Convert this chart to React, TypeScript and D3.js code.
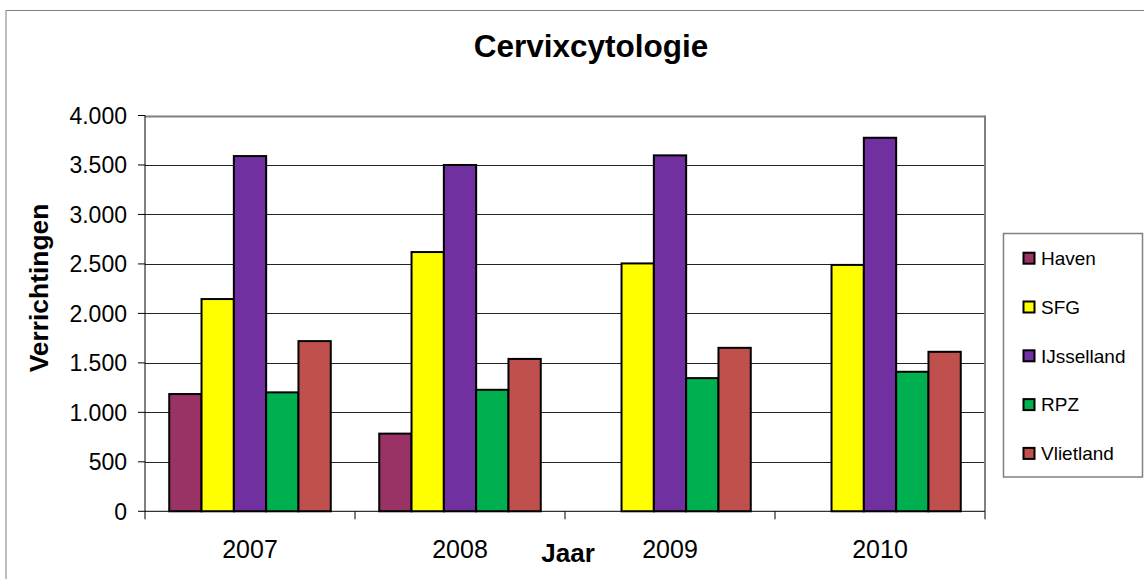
import * as d3 from 'd3';

const years = ['2007', '2008', '2009', '2010'];
const seriesNames = ['Haven', 'SFG', 'IJsselland', 'RPZ', 'Vlietland'];
const haven = [1185, 785, null, null];
const sfg = [2145, 2620, 2505, 2490];
const ijsselland = [3590, 3500, 3597, 3775];
const rpz = [1202, 1228, 1346, 1410];
const vlietland = [1720, 1540, 1652, 1612];
const yTicks = [0, 500, 1000, 1500, 2000, 2500, 3000, 3500, 4000];
const colors = ['#993366', '#FFFF00', '#7030A0', '#00B050', '#C0504D'];

const seriesValues: (number | null)[][] = [haven, sfg, ijsselland, rpz, vlietland];

const FONT = '"Liberation Sans", Arial, sans-serif';

const W = 1144;
const H = 579;
const plot = { left: 145, right: 985, top: 115.5, bottom: 511.3 };

const nl = d3.formatLocale({ decimal: ',', thousands: '.', grouping: [3], currency: ['€', ''] });
const fmt = nl.format(',');

export default function App() {
  const x = d3.scaleBand<string>().domain(years).range([plot.left, plot.right]).padding(0);
  const xs = d3
    .scaleBand<string>()
    .domain(seriesNames)
    .range([0, x.bandwidth()])
    .paddingInner(0)
    .paddingOuter(0.75);
  const y = d3.scaleLinear().domain([0, 4000]).range([plot.bottom, plot.top]);

  const boundaries = [...years.map((yr) => x(yr)!), plot.right];

  return (
    <svg
      width={W}
      height={H}
      style={{ position: 'absolute', left: 0, top: 0, background: '#fff' }}
      fontFamily={FONT}
    >
      {/* chart frame (cropped at right and bottom) */}
      <rect x={6} y={10.5} width={W + 20} height={H + 20} fill="#fff" stroke="#808080" strokeWidth={1} />

      {/* title */}
      <text x={591} y={57.3} textAnchor="middle" fontSize={31.5} fontWeight="bold">
        Cervixcytologie
      </text>

      {/* gridlines */}
      {yTicks.slice(1).map((t) => (
        <line
          key={t}
          x1={plot.left}
          x2={plot.right}
          y1={Math.round(y(t)) + 0.5}
          y2={Math.round(y(t)) + 0.5}
          stroke={t === 4000 ? '#808080' : '#222'}
          strokeWidth={t === 4000 ? 2 : 1}
        />
      ))}
      {/* plot right border */}
      <line x1={plot.right} x2={plot.right} y1={plot.top} y2={plot.bottom} stroke="#808080" strokeWidth={2} />

      {/* bars */}
      {seriesValues.map((vals, si) =>
        vals.map((v, ci) =>
          v == null ? null : (
            <rect
              key={`${si}-${ci}`}
              x={x(years[ci])! + xs(seriesNames[si])!}
              y={y(v)}
              width={xs.bandwidth()}
              height={y(0) - y(v)}
              fill={colors[si]}
              stroke="#000"
              strokeWidth={2}
            />
          ),
        ),
      )}

      {/* y axis */}
      <line x1={plot.left} x2={plot.left} y1={plot.top} y2={plot.bottom} stroke="#000" strokeWidth={1} />
      {yTicks.map((t) => (
        <g key={t}>
          <line x1={plot.left - 7} x2={plot.left} y1={y(t)} y2={y(t)} stroke="#000" strokeWidth={1} />
          <text x={127} y={y(t)} dy="0.36em" textAnchor="end" fontSize={23}>
            {fmt(t)}
          </text>
        </g>
      ))}

      {/* x axis */}
      <line x1={plot.left} x2={plot.right} y1={plot.bottom} y2={plot.bottom} stroke="#000" strokeWidth={1} />
      {boundaries.map((b, i) => (
        <line key={i} x1={b} x2={b} y1={plot.bottom} y2={plot.bottom + 8} stroke="#000" strokeWidth={1} />
      ))}
      {years.map((yr) => (
        <text key={yr} x={x(yr)! + x.bandwidth() / 2} y={557.7} textAnchor="middle" fontSize={25}>
          {yr}
        </text>
      ))}

      {/* axis titles */}
      <text x={568} y={561.7} textAnchor="middle" fontSize={26} fontWeight="bold">
        Jaar
      </text>
      <text
        transform="translate(48,288) rotate(-90)"
        textAnchor="middle"
        fontSize={26.4}
        fontWeight="bold"
      >
        Verrichtingen
      </text>

      {/* legend */}
      <rect x={1003.5} y={233.5} width={139} height={243.5} fill="#fff" stroke="#808080" strokeWidth={1.5} />
      {seriesNames.map((name, i) => {
        const base = 265 + i * 48.8;
        return (
          <g key={name}>
            <rect x={1023.5} y={base - 12.3} width={11} height={11} fill={colors[i]} stroke="#000" strokeWidth={2} />
            <text x={1041} y={base} fontSize={19}>
              {name}
            </text>
          </g>
        );
      })}
    </svg>
  );
}
